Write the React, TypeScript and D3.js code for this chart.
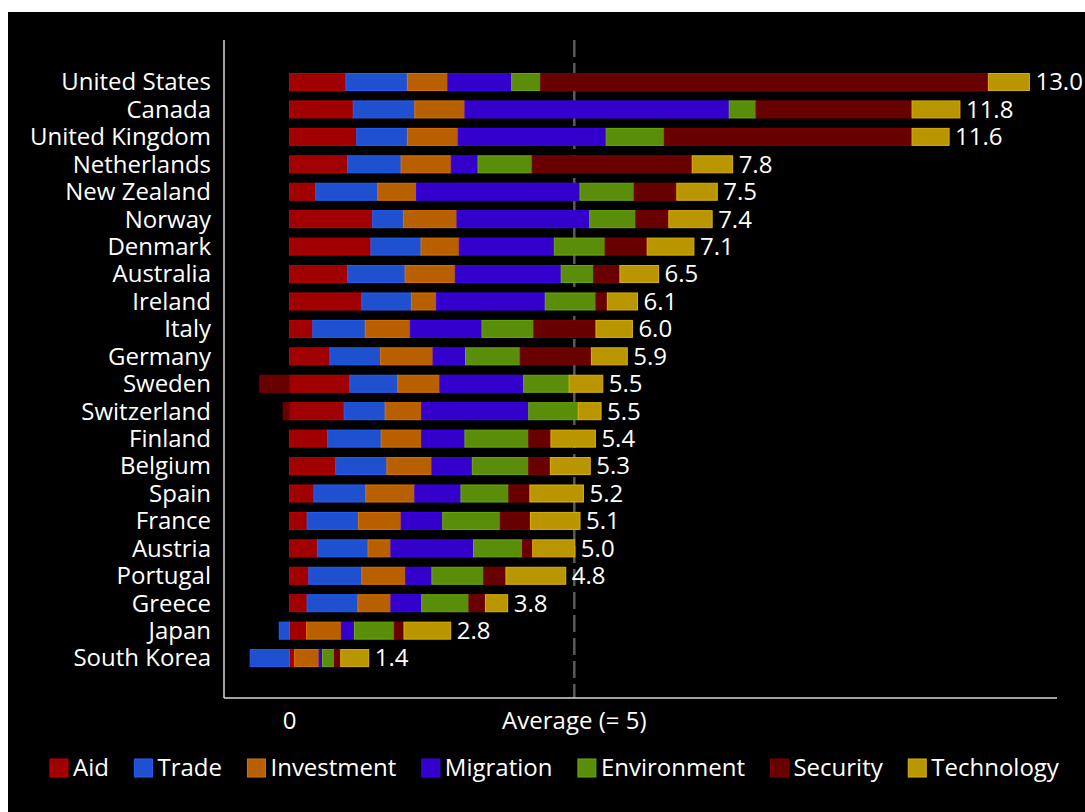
import React, { useEffect, useRef } from "react";
import * as d3 from "d3";

const countries = [
  "United States", "Canada", "United Kingdom", "Netherlands", "New Zealand", "Norway",
  "Denmark", "Australia", "Ireland", "Italy", "Germany", "Sweden", "Switzerland",
  "Finland", "Belgium", "Spain", "France", "Austria", "Portugal", "Greece", "Japan", "South Korea",
];
const aid = [0.99, 1.12, 1.18, 1.02, 0.46, 1.46, 1.43, 1.02, 1.27, 0.41, 0.71, 1.06, 0.96, 0.67, 0.81, 0.43, 0.31, 0.49, 0.34, 0.31, 0.30, 0.09];
const trade = [1.08, 1.08, 0.89, 0.94, 1.09, 0.54, 0.88, 1.01, 0.87, 0.92, 0.89, 0.84, 0.72, 0.94, 0.90, 0.91, 0.90, 0.89, 0.93, 0.89, -0.18, -0.69];
const investment = [0.71, 0.88, 0.89, 0.88, 0.68, 0.94, 0.67, 0.88, 0.44, 0.79, 0.92, 0.74, 0.64, 0.71, 0.79, 0.86, 0.75, 0.40, 0.77, 0.58, 0.61, 0.43];
const migration = [1.12, 4.64, 2.60, 0.47, 2.87, 2.33, 1.67, 1.86, 1.91, 1.26, 0.57, 1.47, 1.88, 0.76, 0.71, 0.81, 0.73, 1.45, 0.46, 0.54, 0.23, 0.06];
const environment = [0.51, 0.47, 1.02, 0.95, 0.95, 0.81, 0.89, 0.57, 0.89, 0.91, 0.96, 0.80, 0.87, 1.12, 0.99, 0.84, 1.01, 0.86, 0.91, 0.83, 0.70, 0.21];
const security = [7.86, 2.74, 4.35, 2.81, 0.75, 0.58, 0.74, 0.46, 0.20, 1.09, 1.25, -0.52, -0.11, 0.39, 0.38, 0.37, 0.53, 0.18, 0.39, 0.29, 0.17, 0.11];
const technology = [0.72, 0.84, 0.65, 0.71, 0.71, 0.76, 0.82, 0.68, 0.53, 0.64, 0.63, 0.59, 0.40, 0.78, 0.70, 0.94, 0.87, 0.74, 1.05, 0.39, 0.82, 0.49];
const totals = ["13.0", "11.8", "11.6", "7.8", "7.5", "7.4", "7.1", "6.5", "6.1", "6.0", "5.9", "5.5", "5.5", "5.4", "5.3", "5.2", "5.1", "5.0", "4.8", "3.8", "2.8", "1.4"];
const components = ["Aid", "Trade", "Investment", "Migration", "Environment", "Security", "Technology"];
const colors = ["#a00000", "#1f50d0", "#b86000", "#3300cc", "#5a8e0a", "#680000", "#b99600"];
const averageValue = 5;
const averageLabel = "Average (= 5)";

const W = 1085;
const H = 812;
const FONT = "'Open Sans', 'Liberation Sans', sans-serif";

export default function App() {
  const ref = useRef<SVGSVGElement | null>(null);

  useEffect(() => {
    const svg = d3.select(ref.current);
    svg.selectAll("*").remove();

    svg.append("rect").attr("x", 0).attr("y", 0).attr("width", W).attr("height", H).attr("fill", "#ffffff");
    svg.append("rect").attr("x", 8).attr("y", 12).attr("width", W - 8).attr("height", H - 12).attr("fill", "#000000");

    const series = [aid, trade, investment, migration, environment, security, technology];
    const table = countries.map((c, i) => {
      const row: any = { country: c };
      components.forEach((k, j) => (row[k] = series[j][i]));
      return row;
    });

    const stacked = d3.stack<any>().keys(components).offset(d3.stackOffsetDiverging)(table);

    const x = d3.scaleLinear().domain([0, averageValue]).range([289.5, 574.3]);
    const y = d3.scaleBand<string>().domain(countries).range([68.3, 671.8]).paddingInner(0.38).paddingOuter(0.19);
    const color = d3.scaleOrdinal<string, string>().domain(components).range(colors);

    const plotTop = 40;
    const plotBottom = 698;
    const plotLeft = 224;
    const plotRight = 1057;

    // average dashed line
    svg.append("line")
      .attr("x1", x(averageValue)).attr("x2", x(averageValue))
      .attr("y1", plotTop).attr("y2", plotBottom)
      .attr("stroke", "#5a5a5a").attr("stroke-width", 2.5).attr("stroke-dasharray", "17,6");

    // bars
    const g = svg.append("g");
    g.selectAll("g.layer")
      .data(stacked)
      .join("g")
      .attr("class", "layer")
      .attr("fill", (d) => color(d.key))
      .attr("stroke", (d) => d3.color(color(d.key))!.brighter(0.5).formatHex())
      .attr("stroke-width", 1)
      .selectAll("rect")
      .data((d) => d.map((v) => ({ v, country: v.data.country })))
      .join("rect")
      .attr("x", (d) => x(Math.min(d.v[0], d.v[1])))
      .attr("y", (d) => y(d.country)!)
      .attr("width", (d) => Math.abs(x(d.v[1]) - x(d.v[0])))
      .attr("height", y.bandwidth());

    // axes lines
    svg.append("line").attr("x1", plotLeft).attr("x2", plotLeft).attr("y1", plotTop).attr("y2", plotBottom)
      .attr("stroke", "#d9d9d9").attr("stroke-width", 1.5);
    svg.append("line").attr("x1", plotLeft).attr("x2", plotRight).attr("y1", plotBottom).attr("y2", plotBottom)
      .attr("stroke", "#d9d9d9").attr("stroke-width", 1.5);

    // country labels
    svg.append("g").selectAll("text").data(countries).join("text")
      .attr("x", 211)
      .attr("y", (d) => y(d)! + y.bandwidth() / 2)
      .attr("dy", "0.35em")
      .attr("text-anchor", "end")
      .attr("fill", "#ffffff")
      .style("font-family", FONT).style("font-size", "24px")
      .text((d) => d);

    // total labels
    const posEnd = countries.map((_, i) => d3.sum(series, (s) => Math.max(0, s[i])));
    svg.append("g").selectAll("text").data(countries).join("text")
      .attr("x", (_, i) => x(posEnd[i]) + 6)
      .attr("y", (d) => y(d)! + y.bandwidth() / 2)
      .attr("dy", "0.35em")
      .attr("fill", "#ffffff")
      .style("font-family", FONT).style("font-size", "24px")
      .text((_, i) => totals[i]);

    // x labels
    const xl = svg.append("g");
    xl.append("text").attr("x", x(0)).attr("y", 721).attr("dy", "0.35em").attr("text-anchor", "middle")
      .attr("fill", "#ffffff").style("font-family", FONT).style("font-size", "24px").text("0");
    xl.append("text").attr("x", x(averageValue)).attr("y", 721).attr("dy", "0.35em").attr("text-anchor", "middle")
      .attr("fill", "#ffffff").style("font-family", FONT).style("font-size", "24px").text(averageLabel);

    // legend
    const lg = svg.append("g");
    let cx = 50;
    components.forEach((k) => {
      lg.append("rect").attr("x", cx).attr("y", 759).attr("width", 18).attr("height", 18)
        .attr("fill", color(k)).attr("stroke", d3.color(color(k))!.brighter(0.5).formatHex()).attr("stroke-width", 1);
      const t = lg.append("text").attr("x", cx + 23).attr("y", 768).attr("dy", "0.35em")
        .attr("fill", "#ffffff").style("font-family", FONT).style("font-size", "24px").text(k);
      const w = (t.node() as SVGTextElement).getComputedTextLength();
      cx = cx + 23 + w + 25.5;
    });
  }, []);

  return (
    <>
      <style>{`body{margin:0;overflow:hidden;}`}</style>
      <svg ref={ref} width={W} height={H} style={{ display: "block" }} />
    </>
  );
}
